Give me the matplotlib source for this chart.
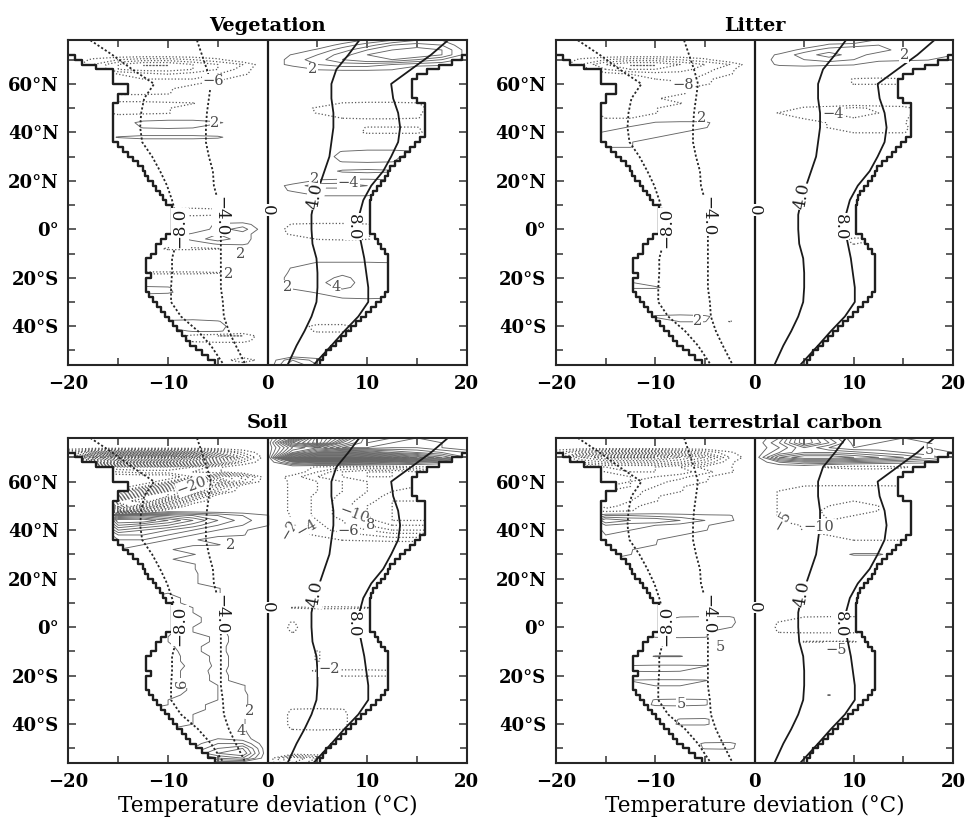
import numpy as np
import matplotlib.pyplot as plt
from matplotlib.patches import Polygon

plt.rcParams['font.family'] = ['DejaVu Serif']

titles = ['Vegetation', 'Litter', 'Soil', 'Total terrestrial carbon']

# land envelope, 2 degree bands from 74N down to 56S (x of left / right edge)
env_edges = list(range(74, -57, -2))
env_left = [-20.5, -19.3, -18.6, -17.2, -15.5, -15.5, -15.5, -14.0, -14.0, -15.0,
            -15.0, -15.5, -15.5, -15.5, -15.5, -15.5, -15.5, -15.5, -15.5, -15.0,
            -14.5, -14.0, -13.5, -13.0, -12.5, -12.3, -12.0, -11.5, -11.2, -10.8,
            -10.5, -10.2, -9.6, -9.6, -9.6, -9.6, -9.6, -9.6, -10.2, -10.7,
            -11.2, -11.2, -11.7, -12.2, -12.2, -12.2, -11.7, -12.2, -12.2, -12.2,
            -11.9, -11.5, -11.1, -10.7, -10.3, -9.9, -9.5, -9.1, -8.6, -8.2,
            -7.8, -7.2, -6.6, -6.0, -5.3]
env_right = [20.5, 19.5, 18.5, 17.2, 16.0, 15.0, 14.5, 14.5, 14.5, 14.5,
             15.0, 15.8, 15.8, 15.8, 15.8, 15.8, 15.8, 15.8, 15.3, 14.8,
             14.3, 13.8, 13.3, 12.8, 12.3, 12.1, 11.8, 11.4, 11.0, 10.6,
             10.4, 10.3, 10.25, 10.25, 10.25, 10.25, 10.25, 10.25, 10.8, 11.1,
             11.4, 11.8, 12.1, 12.1, 12.1, 12.1, 12.1, 12.1, 12.1, 12.1,
             11.8, 11.4, 10.9, 10.4, 9.9, 9.4, 8.9, 8.4, 7.9, 7.4,
             6.9, 6.4, 5.9, 5.6, 5.3]

# temperature deviation curves (-8, -4, 4, 8)
dev_lat = [78, 72, 66, 60, 54, 48, 42, 36, 30, 24, 18, 12, 6, 0,
           -6, -12, -18, -24, -30, -36, -42, -48, -56]
dev_m8 = [-17.8, -15.6, -13.6, -11.4, -12.4, -12.7, -12.8, -12.6, -11.6, -10.8, -10.1, -9.6,
          -9.2, -9.1, -9.2, -9.6, -9.6, -9.7, -9.7, -8.7, -7.0, -5.7, -4.4]
dev_m4 = [-7.1, -6.6, -6.1, -5.7, -5.9, -6.1, -6.2, -6.2, -5.9, -5.5, -5.4, -5.0,
          -4.9, -4.7, -4.7, -4.7, -4.7, -4.7, -4.5, -4.4, -3.9, -3.2, -2.2]
dev_p4 = [9.2, 8.1, 6.9, 6.4, 6.4, 6.6, 6.6, 6.4, 6.2, 5.7, 5.2, 4.7,
          4.4, 4.4, 4.5, 4.9, 5.0, 5.0, 4.9, 4.4, 3.7, 2.9, 2.0]
dev_p8 = [18.1, 16.4, 14.4, 12.4, 12.6, 13.1, 13.3, 13.1, 12.4, 11.6, 10.4, 9.6,
          9.2, 9.1, 9.4, 9.7, 9.9, 10.1, 10.1, 9.1, 7.7, 6.4, 4.6]

# carbon change fields: grid columns / rows, then nonzero row pieces (lat, first x, values)
dev_cols = [-20, -17.5, -15, -12.5, -10, -7.5, -5, -2.5, 0,
            2.5, 5, 7.5, 10, 12.5, 15, 17.5, 20]
grid_lat = list(range(-56, 79, 2))

veg_rows = [
    (78, 10, [2.5, 4, 6, 6, 4]),
    (76, 7.5, [3, 5, 8, 9, 8, 4]),
    (74, 5, [2.5, 5, 8, 10, 11, 10, 5]),
    (72, 2.5, [2.2, 4, 7, 10, 12, 12, 10, 5]),
    (70, 2.5, [3, 5, 8, 10, 10, 8, 6, 3]),
    (68, 2.5, [3, 4, 5, 5, 4, 3, 2.5, 2.2]),
    (66, 5, [2.2, 2.5, 2.5, 2.2]),
    (70, -17.5, [-2.5, -4, -5, -5, -4, -2.5]),
    (68, -17.5, [-4, -8, -10, -10, -8, -6, -4]),
    (66, -17.5, [-4, -8, -9, -9, -8, -6, -3]),
    (64, -15, [-4, -5, -6, -5, -4, -2.5]),
    (62, -15, [-3, -4, -4, -4, -3]),
    (60, -15, [-2.5, -3, -3, -2.5]),
    (58, -15, [-3, -3, -2.5]),
    (56, -15, [-2.5, -2.5, -2.2]),
    (52, -15, [-3, -3, -2.5, -2.2]),
    (50, -15, [-2.5, -2.5, -2.2]),
    (48, -15, [-3, -2.5, -2.2]),
    (44, -12.5, [3, 4, 4, 2.5]),
    (42, -12.5, [2.2, 2.5, 2.2]),
    (38, -15, [2.2, 3, 3, 3, 2.5]),
    (52, 7.5, [-2.2, -2.5, -2.5, -2.2]),
    (50, 5, [-2.5, -3, -3.5, -3.5, -3]),
    (48, 5, [-2.2, -2.5, -3, -3, -2.5]),
    (46, 7.5, [-2.2, -2.5, -2.5, -2.2]),
    (42, 10, [-2.2, -2.2, -2.2]),
    (40, 10, [-2.5, -2.5, -2.5]),
    (32, 7.5, [2.2, 3, 3, 2.2]),
    (30, 7.5, [3, 4, 3]),
    (28, 7.5, [2.2, 2.5, 2.2]),
    (24, 7.5, [2.5, 3, 2.5]),
    (20, 5, [2.5, 3, 3, 2.5]),
    (18, 2.5, [3, 5, 5, 4, 2.5]),
    (16, 2.5, [2.5, 3, 3, 3, 2.2]),
    (14, 5, [2.2, 2.2, 2.2]),
    (8, -10, [-2.5, -3, -2.5]),
    (6, -10, [-2.2, -2.5, -2.2]),
    (2, -5, [2.5, 3, 0, -2.2, -2.5, -2.5, -2.2]),
    (0, -5, [3, 5, 0, -3, -3.5, -3.5, -2.5]),
    (-2, -7.5, [2.5, 4, 3, 0, -2.5, -3, -3, -2.2]),
    (-4, -7.5, [3, 5, 3, 0, 0, -2.2, -2.5, -2.2]),
    (-6, -5, [2.5, 2.5]),
    (-8, -10, [-2.5, -2.5, -2.2]),
    (-18, -12.5, [-2.5, -2.5, -2.5, -2.2]),
    (-14, 5, [2.5, 2.5, 2.5, 2.2]),
    (-16, 2.5, [2.2, 3, 3, 3, 2.5]),
    (-18, 2.5, [2.5, 3, 3.5, 3, 2.2]),
    (-20, 2.5, [3, 3, 4.5, 3, 2.2]),
    (-22, 2.5, [3, 3.5, 5, 3, 2.2]),
    (-24, 2.5, [3, 3, 4.5, 3, 2.5]),
    (-26, 5, [2.5, 3, 3, 2.5]),
    (-28, 7.5, [2.5, 3, 2.5]),
    (-26, -12.5, [3, 2.5]),
    (-24, -12.5, [2.5, 2.2]),
    (-38, -10, [2.5, 3, 2.2]),
    (-40, -10, [3, 4, 3]),
    (-42, -7.5, [2.5, 2.5]),
    (-44, -7.5, [-3, -4, -4]),
    (-46, -7.5, [-2.5, -3, -3]),
    (-40, 5, [-3, -3]),
    (-42, 5, [-2.5, -2.5]),
    (-54, -2.5, [-4, 0, 6, 3]),
    (-56, 0, [0, 8, 4]),
]

litter_rows = [
    (78, 12.5, [2.5, 3, 3, 2.5]),
    (76, 7.5, [2.5, 3, 4, 4, 3, 2.5]),
    (74, 5, [3, 5, 6, 5, 3, 2.5, 2.2]),
    (72, 2.5, [2.5, 5, 7, 5, 3, 2.5, 2.5, 2.2]),
    (70, 2.5, [3, 4, 5, 4, 3, 2.5, 2.2]),
    (68, 2.5, [2.5, 3, 2.5, 2.2]),
    (70, -17.5, [-2.5, -4, -5, -5, -4, -2.5]),
    (68, -17.5, [-4, -8, -10, -10, -8, -6, -4]),
    (66, -17.5, [-3, -6, -8, -8, -7, -5, -2.5]),
    (64, -15, [-3, -4, -5, -5, -4, -2.2]),
    (62, -15, [-2.5, -3, -4, -5, -3]),
    (60, -15, [-2.5, -3, -3, -3, -2.5]),
    (58, -15, [-2.5, -3, -3, -2.5]),
    (56, -15, [-2.5, -3, -3, -2.5]),
    (54, -15, [-2.5, -2.5, -2.5]),
    (52, -15, [-2.5, -2.5, -2.5, -2.2]),
    (50, -15, [-2.5, -2.5, -2.2]),
    (48, -15, [-2.5, -2.5, -2.2]),
    (46, -15, [-2.2, -2.2]),
    (44, -10, [2.2, 2.5, 2.5]),
    (42, -12.5, [2.5, 3, 3, 2.2]),
    (40, -15, [2.5, 3, 2.5, 2.2]),
    (38, -15, [2.5, 2.5, 2.2]),
    (36, -15, [2.5, 2.2]),
    (34, -15, [2.2, 2.2]),
    (62, 10, [-2.2, -2.5, -2.2]),
    (60, 10, [-2.2, -2.2, -2.2]),
    (50, 5, [-2.5, -3, -4.5, -3.5, -3]),
    (48, 2.5, [-2.2, -3, -4, -5, -4, -3]),
    (46, 5, [-2.5, -3, -4, -3, -2.5]),
    (44, 7.5, [-2.2, -2.5, -2.5, -2.2]),
    (42, 7.5, [-2.2, -2.5, -2.5, -2.5]),
    (40, 10, [-2.2, -2.2, -2.2]),
    (-4, 10, [-2.5, -2.2]),
    (-6, 10, [-2.2]),
    (-24, -12.5, [2.5, 2.5]),
    (-22, -12.5, [2.2]),
    (-36, -10, [2.5, 3, 2.5]),
    (-38, -7.5, [2.2, 2.2, -2.2]),
]

soil_rows = [
    (78, 2.5, [10, 30, 20, 6, 6, 8, 8, 6]),
    (76, 2.5, [20, 30, 14, 6, 8, 10, 8, 6]),
    (74, 2.5, [12, 16, 8, 8, 10, 10, 8, 6]),
    (72, 0, [0, 16, 24, 24, 20, 16, 14, 12, 10]),
    (70, 0, [0, 30, 40, 40, 36, 30, 24, 18, 12]),
    (68, 2.5, [8, 12, 12, 10, 8, 6, 4]),
    (66, 5, [-2.5, -4, -4, -4, -2.5, -2.2]),
    (64, 5, [-4, -8, -10, -10, -8, -4]),
    (62, 2.5, [-3, -6, -8, -10, -10, -8, -6]),
    (60, 2.5, [-2.5, -4, -6, -8, -9, -9, -9]),
    (58, 2.5, [-2.5, -4, -6, -8, -9.5, -10, -10]),
    (56, 2.5, [-2.5, -4, -6, -8, -10, -10, -10]),
    (54, 2.5, [-2.5, -4.5, -6.5, -8.5, -11, -11, -11]),
    (52, 2.5, [-2.5, -4.5, -7, -9, -12, -12, -12]),
    (50, 2.5, [-2.5, -4.5, -7, -10, -12, -12, -12]),
    (48, 2.5, [-2.5, -4.5, -7, -10, -12, -12, -12]),
    (46, 2.5, [-2.5, -4.5, -7, -10, -12, -12, -12]),
    (44, 2.5, [-2.5, -4, -6, -9, -12, -12, -12]),
    (42, 2.5, [-2.2, -3.5, -5.5, -8, -10, -10, -10]),
    (40, 2.5, [-2.2, -3, -5, -6, -8, -8, -8]),
    (38, 2.5, [0, -2.5, -3, -4, -5, -5, -5]),
    (36, 2.5, [0, 0, -2.2, -2.5, -3, -3, -3]),
    (72, -20, [-6, -14, -16, -16, -16, -14, -10, -4]),
    (70, -20, [-10, -30, -36, -36, -36, -30, -20, -8]),
    (68, -20, [-6, -20, -24, -24, -24, -20, -12, -4]),
    (66, -17.5, [-6, -8, -8, -8, -6, -2.5]),
    (64, -17.5, [-2.5, -4, -5, -5, -4, -2.2]),
    (62, -7.5, [-4, -12, -8]),
    (60, -10, [-4, -14, -18, -6]),
    (58, -12.5, [-4, -14, -20, -10]),
    (56, -15, [-4, -14, -24, -20, -6]),
    (54, -15, [-12, -24, -24, -10]),
    (52, -15, [-24, -28, -16, -4]),
    (50, -15, [-30, -20, -8]),
    (48, -15, [-20, -8]),
    (46, -15, [10, 12, 10, 8, 6, 4, 2.2]),
    (44, -15, [20, 20, 16, 12, 8, 5, 2.2]),
    (42, -15, [16, 14, 12, 9, 6, 4, 2.2]),
    (40, -15, [12, 10, 8, 6, 4, 2.5]),
    (38, -15, [8, 8, 6, 4, 3, 2.2]),
    (36, -15, [6, 6, 4, 2.5]),
    (34, -15, [6, 4, 3, 2.5, 2.2]),
    (32, -15, [4, 4, 2.5]),
    (30, -15, [4, 3, 2.5, 2.2]),
    (28, -15, [2.5, 3, 2.5]),
    (26, -12.5, [2.2, 2.5, 2.2]),
    (24, -12.5, [2.5, 2.5, 2.2]),
    (22, -12.5, [3, 3, 2.5]),
    (20, -12.5, [3, 3.2, 2.5]),
    (18, -12.5, [3, 3.5, 2.5]),
    (16, -12.5, [3.5, 3.5, 3, 2.2]),
    (14, -12.5, [4, 4, 3, 2.2]),
    (12, -12.5, [4, 4.5, 3.5, 2.5]),
    (10, -12.5, [4, 4.5, 3.5, 2.5]),
    (8, -12.5, [5, 5, 4, 2.5]),
    (6, -12.5, [5, 5, 4, 2.2]),
    (4, -12.5, [5, 5.5, 4.5, 3]),
    (2, -12.5, [5, 6, 4.5, 3]),
    (0, -12.5, [6, 6, 4, 2.5]),
    (-2, -12.5, [6, 6.5, 4, 3]),
    (-4, -12.5, [6.5, 6, 5, 3.5]),
    (-6, -12.5, [7, 6, 5, 3.5]),
    (-8, -12.5, [7, 6.5, 4.5, 3]),
    (-10, -12.5, [7, 7, 4.5, 3]),
    (-12, -12.5, [7.5, 7, 5, 3.5]),
    (-14, -12.5, [8, 7, 5, 3.5]),
    (-16, -12.5, [7.5, 7, 5.5, 3.5]),
    (-18, -12.5, [7, 6.5, 5.5, 3]),
    (-20, -12.5, [7.5, 7, 5, 3.5]),
    (-22, -12.5, [8, 7, 5, 3.5]),
    (-24, -12.5, [8, 7.5, 5.5, 4, 2.2]),
    (-26, -12.5, [8, 7.5, 5.5, 4, 2.2]),
    (-28, -12.5, [7.5, 7, 5, 4, 2.5]),
    (-30, -12.5, [7, 6, 5, 4, 2.5]),
    (-32, -12.5, [6.5, 6, 4.5, 3.5, 2.5]),
    (-34, -12.5, [6, 5.5, 4.5, 3.5, 2.5]),
    (-36, -12.5, [5.5, 5, 4, 3.5, 2.5]),
    (-38, -12.5, [5, 5, 4, 3.5, 2.2]),
    (-40, -12.5, [4.5, 4.5, 4, 3, 2.2]),
    (-42, -12.5, [4, 4, 4, 3, 2.2]),
    (-44, -12.5, [3.5, 3.5, 3.5, 3.5, 2.5]),
    (-46, -12.5, [3, 3, 3.5, 4, 3]),
    (-48, -12.5, [0, 2.5, 3, 6, 6]),
    (-50, -12.5, [0, 0, 4, 8, 10]),
    (-52, -12.5, [0, 0, 6, 10, 12]),
    (-54, -12.5, [0, 0, 4, 6, 8, 0, -10, -6]),
    (-56, 2.5, [-8, -4]),
    (8, 2.5, [-2.2, -2.5, -2.5, -2.2]),
    (2, 2.5, [-2.2]),
    (0, 2.5, [-2.5]),
    (-2, 2.5, [-2.2]),
    (-10, 5, [-2.2]),
    (-12, 5, [-2.2]),
    (-14, 5, [-2.2]),
    (-18, 5, [-2.5, -2.5, -2.5, -2.2]),
    (-20, 7.5, [-2.2, -2.2, -2.2]),
    (-34, 2.5, [-2.2, -2.5, -2.2]),
    (-36, 2.5, [-2.5, -3, -2.5]),
    (-38, 2.5, [-2.5, -3, -2.5]),
    (-40, 2.5, [-2.5, -3, -2.5]),
    (-42, 2.5, [-2.2, -2.5, -2.2]),
]

total_rows = [
    (78, 2.5, [10, 40, 20, 6, 8, 10, 10, 8]),
    (76, 2.5, [15, 40, 25, 8, 10, 12, 10, 8]),
    (74, 2.5, [10, 25, 15, 10, 12, 12, 10, 8]),
    (72, 0, [0, 15, 25, 25, 22, 18, 15, 12, 10]),
    (70, 0, [0, 30, 40, 40, 35, 30, 25, 18, 12]),
    (68, 2.5, [10, 15, 15, 12, 10, 8, 6]),
    (66, 7.5, [-6, -8, -8, -6]),
    (72, -20, [-10, -20, -25, -25, -25, -20, -15, -6]),
    (70, -20, [-15, -40, -50, -50, -50, -40, -30, -10]),
    (68, -20, [-10, -30, -35, -35, -35, -30, -20, -6]),
    (66, -17.5, [-15, -20, -20, -20, -15, -8, -5.5]),
    (64, -15, [-15, -20, -20, -18, -12, -6]),
    (62, -15, [-12, -15, -15, -12, -6]),
    (60, -15, [-12, -15, -12, -8, -5.5]),
    (58, -15, [-15, -15, -10, -6]),
    (56, -15, [-15, -12, -8, -5.5]),
    (54, -15, [-15, -12, -6]),
    (52, -15, [-15, -10, -5.5]),
    (50, -15, [-12, -8]),
    (48, -15, [-8, -5.5]),
    (46, -15, [10, 10, 8, 7, 6, 5.5]),
    (44, -15, [25, 20, 20, 15, 10, 6]),
    (42, -15, [15, 12, 10, 8, 6]),
    (40, -15, [12, 10, 8, 6, 5.5]),
    (38, -15, [10, 8, 6, 5.5]),
    (36, -15, [8, 6, 5.5]),
    (34, -15, [6, 6, 5.2]),
    (32, -15, [6, 5.5]),
    (30, -15, [5.5, 5.2]),
    (28, -15, [5.5]),
    (4, -7.5, [5.5, 6, 6]),
    (2, -10, [5.5, 6, 6.5, 6.5]),
    (0, -10, [6, 6, 6, 5.5]),
    (-2, -10, [6, 6, 5.5]),
    (-4, -10, [5.5, 6, 5.5]),
    (-12, -10, [5.5, 5.5]),
    (-16, -12.5, [5.5, 6, 6, 5.5]),
    (-18, -12.5, [5.5, 6, 5.5]),
    (-22, -12.5, [5.5, 6, 6, 5.5]),
    (-24, -10, [5.5, 5.5]),
    (-30, -10, [5.5, 6, 5.5]),
    (-32, -10, [6, 6.5, 5.5]),
    (-38, -7.5, [5.5, 6]),
    (-40, -7.5, [6, 6]),
    (-48, -5, [6, 6.5]),
    (-50, -5, [5.5, 6]),
    (58, 2.5, [0, -5.5, -6, -6, -6, -5.5, 0]),
    (56, 2.5, [-5.5, -6, -8, -8, -8, -6, -6]),
    (54, 2.5, [-5.5, -6.5, -8.5, -9, -8.5, -7, -7]),
    (52, 2.5, [-5.5, -7, -9, -10, -9, -8, -8]),
    (50, 2.5, [-5.5, -7.5, -10, -11, -10, -8, -8]),
    (48, 2.5, [-5.5, -8, -11, -11, -10, -8, -8]),
    (46, 2.5, [-5.5, -8, -10.5, -10, -9, -7, -7]),
    (44, 2.5, [-5.5, -8, -10, -9, -8, -6, -6]),
    (42, 2.5, [0, -6, -8, -8, -7, -6, -6]),
    (40, 2.5, [0, -5.5, -6.5, -7, -6.5, -6, -6]),
    (38, 2.5, [0, 0, -5.5, -6, -6, -6, -6]),
    (36, 2.5, [0, 0, 0, -5.5, -5.5, -5.5, 0]),
    (30, 10, [6, 6]),
    (4, 5, [-5.5, -6, -6, -5.5]),
    (2, 2.5, [-5.5, -6, -7, -7, -6]),
    (0, 2.5, [-6, -7, -7, -7, -6]),
    (-2, 2.5, [-5.5, -6, -6, -6, -5.5]),
    (-6, 5, [-5.5, -5.5, -5.5]),
    (-28, 7.5, [5.3]),
]

panel_rows = [veg_rows, litter_rows, soil_rows, total_rows]
panel_step = [2, 2, 2, 5]
panel_max = [12, 10, 40, 50]

# contour value labels (x, lat, text, rotation)
veg_labels = [(-5.5, 61, '−6', 0), (-5.3, 44, '2', 0), (-2.7, -10, '2', 0),
              (-3.9, -18.4, '2', 0), (4.5, 66, '2', 0), (4.7, 20.6, '2', 0),
              (8.1, 19, '−4', 0), (2.0, -24, '2', 0), (6.9, -24, '4', 0)]
litter_labels = [(-7.2, 59.7, '−8', 0), (-5.3, 46, '2', 0), (15.1, 71.8, '2', 0),
                 (7.9, 47.4, '−4', 0), (-5.7, -37.7, '2', 0)]
soil_labels = [(-7.6, 58.3, '−20', 20), (-3.7, 34, '2', 0), (-8.6, -23, '6', 90),
               (-1.8, -34.7, '2', 0), (-2.7, -43, '4', 0), (2.2, 40.3, '−2', 60),
               (3.9, 41, '−4', 30), (8.7, 46.5, '−10', -20), (10.3, 42, '8', 0),
               (8.1, 39.6, '−6', 0), (6.2, -17.4, '−2', 0)]
total_labels = [(2.8, 44, '−5', 60), (6.5, 41.4, '−10', 0), (17.6, 73, '5', 0),
                (-3.4, -8, '5', 0), (8.2, -9.3, '−5', 0), (-7.4, -31.5, '5', 0)]
panel_labels = [veg_labels, litter_labels, soil_labels, total_labels]

# labels on the temperature deviation curves (x, lat, text, rotation)
dev_labels = [(-8.8, 0.5, '−8.0', 90), (-4.7, 5.5, '−4.0', 270), (0, 8, '0', 270),
              (4.8, 13.5, '4.0', 80), (8.6, 1, '8.0', 270)]

lat_ticks = [60, 40, 20, 0, -20, -40]
lat_ticklabels = ['60°N', '40°N', '20°N', '0°', '20°S', '40°S']
dev_ticks = [-20, -10, 0, 10, 20]
dev_ticklabels = ['−20', '−10', '0', '10', '20']

fig = plt.figure(figsize=(9.67, 8.22), dpi=100)
positions = [[0.0708, 0.556, 0.412, 0.395], [0.575, 0.556, 0.4106, 0.395],
             [0.0708, 0.0718, 0.412, 0.3954], [0.575, 0.0718, 0.4106, 0.3954]]

for k in range(4):
    ax = fig.add_axes(positions[k])

    # field from the row pieces
    field = np.zeros((len(grid_lat), len(dev_cols)))
    for lat, x0, vals in panel_rows[k]:
        i = grid_lat.index(lat)
        j = dev_cols.index(x0)
        field[i, j:j + len(vals)] = vals

    # clip shape = land envelope
    verts = [(env_left[0], 82)]
    for n in range(len(env_left)):
        verts.append((env_left[n], env_edges[n]))
        verts.append((env_left[n], env_edges[n + 1]))
    verts.append((env_left[-1], -60))
    verts.append((env_right[-1], -60))
    for n in range(len(env_right) - 1, -1, -1):
        verts.append((env_right[n], env_edges[n + 1]))
        verts.append((env_right[n], env_edges[n]))
    verts.append((env_right[0], 82))
    clip = Polygon(verts, closed=True, transform=ax.transData)

    step = panel_step[k]
    top = panel_max[k]
    pos_levels = np.arange(step, top + step, step)
    neg_levels = -pos_levels[::-1]
    cs1 = ax.contour(dev_cols, grid_lat, field, levels=pos_levels, colors='0.4',
                     linewidths=0.65, linestyles='solid')
    cs2 = ax.contour(dev_cols, grid_lat, field, levels=neg_levels, colors='0.35',
                     linewidths=0.9, linestyles='dotted')
    cs1.set_clip_path(clip)
    cs2.set_clip_path(clip)

    for x, y, t, r in panel_labels[k]:
        ax.text(x, y, t, fontsize=10.5, color='0.3', rotation=r, ha='center', va='center',
                bbox=dict(facecolor='white', edgecolor='none', pad=0.3))

    # envelope staircase
    ax.plot(env_left + [env_left[-1]], env_edges, drawstyle='steps-pre', color='0.12', lw=1.7)
    ax.plot(env_right + [env_right[-1]], env_edges, drawstyle='steps-pre', color='0.12', lw=1.7)

    # temperature deviation curves
    ax.plot(dev_m8, dev_lat, color='0.15', lw=1.3, linestyle=(0, (1.2, 1.2)))
    ax.plot(dev_m4, dev_lat, color='0.15', lw=1.3, linestyle=(0, (1.2, 1.2)))
    ax.plot(dev_p4, dev_lat, color='0.1', lw=1.3)
    ax.plot(dev_p8, dev_lat, color='0.1', lw=1.3)
    ax.axvline(0, color='0.1', lw=1.6)
    for x, y, t, r in dev_labels:
        ax.text(x, y, t, fontsize=12, rotation=r, ha='center', va='center', color='0.1',
                bbox=dict(facecolor='white', edgecolor='none', pad=0.2))

    ax.set_xlim(-20, 20)
    ax.set_ylim(-56, 78)
    ax.set_xticks(dev_ticks)
    ax.set_xticklabels(dev_ticklabels, fontweight='bold', fontsize=13)
    ax.set_xticks([-15, -5, 5, 15], minor=True)
    ax.set_yticks(lat_ticks)
    ax.set_yticklabels(lat_ticklabels, fontweight='bold', fontsize=13)
    ax.set_yticks([-50, -30, -10, 10, 30, 50, 70], minor=True)
    ax.tick_params(which='both', direction='in', top=True, right=True, width=1.1, color='0.2')
    ax.tick_params(which='major', length=6)
    ax.tick_params(which='minor', length=5)
    ax.tick_params(axis='x', pad=7)
    ax.tick_params(axis='y', pad=7)
    for s in ax.spines.values():
        s.set_linewidth(1.5)
        s.set_color('0.15')
    ax.set_title(titles[k], fontweight='bold', fontsize=14, pad=7)
    if k >= 2:
        ax.set_xlabel('Temperature deviation (°C)', fontsize=15.5, labelpad=3)

fig.savefig('out.png', dpi=100, facecolor='white')
